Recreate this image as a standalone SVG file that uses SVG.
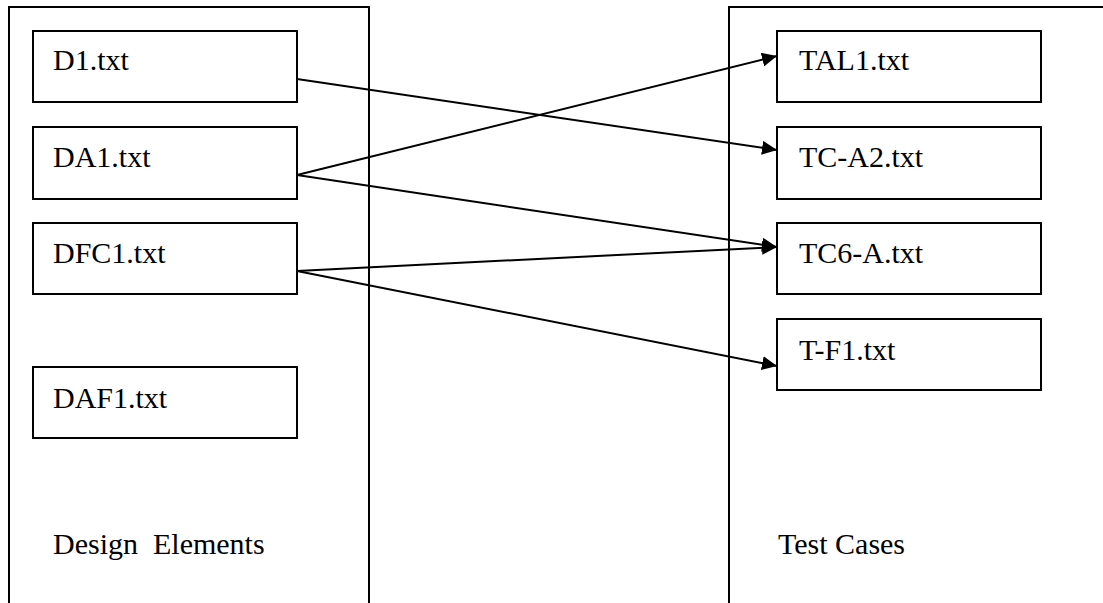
<svg xmlns="http://www.w3.org/2000/svg" width="1103" height="603" viewBox="0 0 1103 603">
<style>
.frame{fill:none;stroke:#000;stroke-width:2}
.box{fill:#fff;stroke:#000;stroke-width:2}
.lbl{font-family:"Liberation Serif","Times New Roman",serif;font-size:30px;fill:#000}
.edge{fill:none;stroke:#000;stroke-width:2}
</style>
<defs>
<marker id="arr" markerUnits="userSpaceOnUse" markerWidth="16" markerHeight="14" refX="15" refY="7" orient="auto">
<path d="M0,0 L15,7 L0,14 z" fill="#000"/>
</marker>
</defs>
<rect width="1103" height="603" fill="#fff"/>
<g id="design-elements">
<path class="frame" d="M9,610 V7 H369 V610"/>
<text class="lbl" x="53" y="554" xml:space="preserve">Design  Elements</text>
</g>
<g id="test-cases">
<path class="frame" d="M729,610 V7 H1110"/>
<text class="lbl" x="778" y="554">Test Cases</text>
</g>
<g id="D1"><rect class="box" x="33" y="31" width="264" height="71"/><text class="lbl" x="53" y="70">D1.txt</text></g>
<g id="DA1"><rect class="box" x="33" y="127" width="264" height="72"/><text class="lbl" x="53" y="167">DA1.txt</text></g>
<g id="DFC1"><rect class="box" x="33" y="223" width="264" height="71"/><text class="lbl" x="53" y="263">DFC1.txt</text></g>
<g id="DAF1"><rect class="box" x="33" y="367" width="264" height="71"/><text class="lbl" x="53" y="408">DAF1.txt</text></g>
<g id="TAL1"><rect class="box" x="777" y="31" width="264" height="71"/><text class="lbl" x="799" y="70">TAL1.txt</text></g>
<g id="TC-A2"><rect class="box" x="777" y="127" width="264" height="72"/><text class="lbl" x="799" y="167">TC-A2.txt</text></g>
<g id="TC6-A"><rect class="box" x="777" y="223" width="264" height="71"/><text class="lbl" x="799" y="263">TC6-A.txt</text></g>
<g id="T-F1"><rect class="box" x="777" y="319" width="264" height="71"/><text class="lbl" x="799" y="360">T-F1.txt</text></g>
<g id="connectors">
<line class="edge" x1="297" y1="79" x2="777" y2="150" marker-end="url(#arr)"/>
<line class="edge" x1="297" y1="175" x2="777" y2="56" marker-end="url(#arr)"/>
<line class="edge" x1="297" y1="175" x2="777" y2="247" marker-end="url(#arr)"/>
<line class="edge" x1="297" y1="271" x2="777" y2="247" marker-end="url(#arr)"/>
<line class="edge" x1="297" y1="271" x2="777" y2="366" marker-end="url(#arr)"/>
</g>
</svg>
